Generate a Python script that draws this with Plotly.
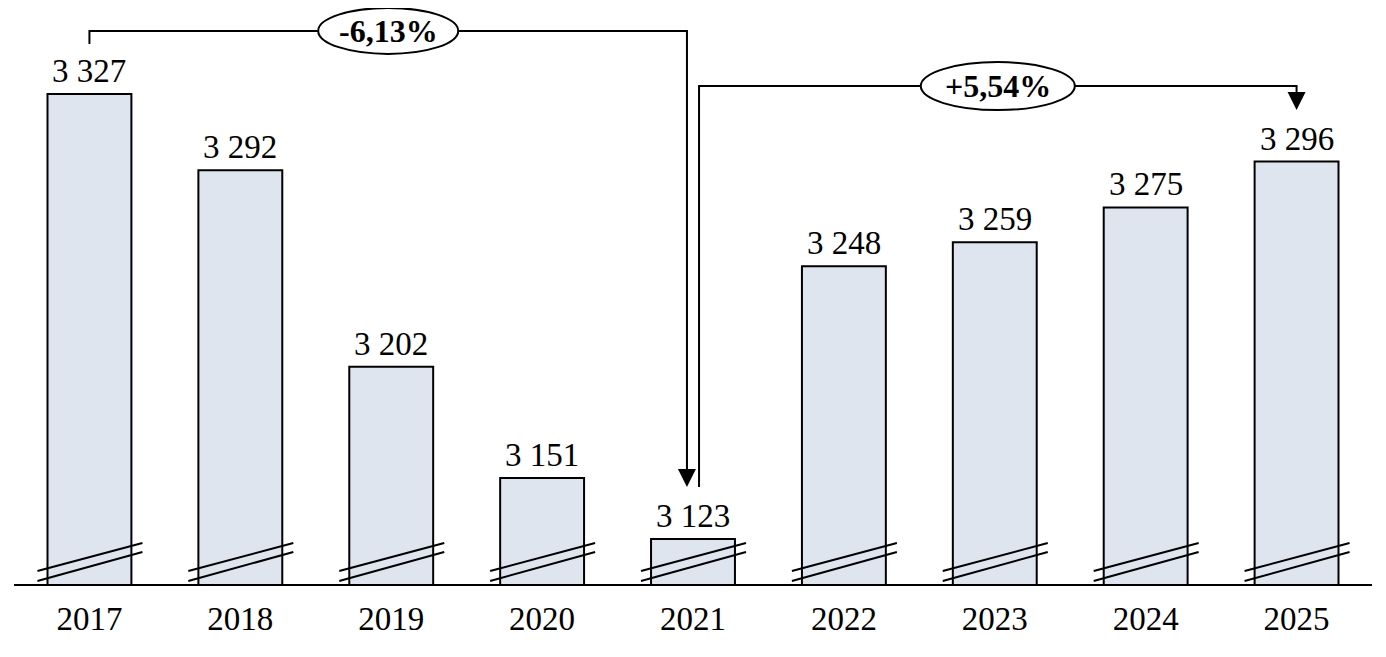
import plotly.graph_objects as go

years = ["2017", "2018", "2019", "2020", "2021", "2022", "2023", "2024", "2025"]
values = [3327, 3292, 3202, 3151, 3123, 3248, 3259, 3275, 3296]
change_labels = ["-6,13%", "+5,54%"]

Y_MIN = 3102.4
Y_MAX = 3366.4
FONT = "Liberation Serif, Times New Roman, serif"
BAR_FILL = "#dee5ef"


def fmt(v):
    return f"{v:,}".replace(",", " ")


fig = go.Figure(
    go.Bar(
        x=list(range(len(years))),
        y=values,
        width=0.556,
        marker=dict(color=BAR_FILL, line=dict(color="black", width=2)),
        hoverinfo="skip",
    )
)

shapes = []
annotations = []

# value labels
for i, v in enumerate(values):
    annotations.append(dict(x=i, y=v, text=fmt(v), showarrow=False, yanchor="bottom", yshift=3,
                            font=dict(size=33, color="black", family=FONT)))

# axis break marks
for i in range(len(years)):
    for y0, y1 in [(3, 32), (13, 41)]:
        shapes.append(dict(type="line", xref="x", yref="y", xsizemode="pixel", ysizemode="pixel",
                           xanchor=i, yanchor=Y_MIN, x0=-52, x1=53, y0=y0, y1=y1,
                           line=dict(color="black", width=2)))

# bracket 1: 2017 -> 2021
y_top1 = 3355.9
shapes.append(dict(type="path", xref="x", yref="y",
                   path=f"M 0 {3349.9} L 0 {y_top1} L 3.96 {y_top1} L 3.96 3165",
                   line=dict(color="black", width=2)))
annotations.append(dict(x=3.96, y=3146.9, ax=3.96, ay=3166, xref="x", yref="y", axref="x", ayref="y",
                        text="", showarrow=True, arrowhead=2, arrowsize=1.8, arrowwidth=2, arrowcolor="black"))

# bracket 2: 2021 -> 2025
y_top2 = 3330.6
shapes.append(dict(type="path", xref="x", yref="y",
                   path=f"M 4.04 3146.9 L 4.04 {y_top2} L 8 {y_top2} L 8 3326",
                   line=dict(color="black", width=2)))
annotations.append(dict(x=8, y=3319.6, ax=8, ay=3328, xref="x", yref="y", axref="x", ayref="y",
                        text="", showarrow=True, arrowhead=2, arrowsize=1.8, arrowwidth=2, arrowcolor="black"))

# ellipse labels
for cx, cy, w, h, label in [(1.98, y_top1, 140, 46, change_labels[0]), (6.02, y_top2, 154, 48, change_labels[1])]:
    shapes.append(dict(type="circle", xref="x", yref="y", xsizemode="pixel", ysizemode="pixel",
                       xanchor=cx, yanchor=cy, x0=-w / 2, x1=w / 2, y0=-h / 2, y1=h / 2,
                       fillcolor="white", line=dict(color="black", width=2), layer="above"))
    annotations.append(dict(x=cx, y=cy, text=f"<b>{label}</b>", showarrow=False,
                            font=dict(size=32, color="black", family=FONT)))

fig.update_layout(
    width=1378,
    height=649,
    margin=dict(l=5.5, r=13.5, t=0, b=73),
    paper_bgcolor="white",
    plot_bgcolor="white",
    showlegend=False,
    shapes=shapes,
    annotations=annotations,
    font=dict(family=FONT, color="black"),
)
fig.update_xaxes(range=[-0.5, len(years) - 0.5], tickmode="array", tickvals=list(range(len(years))), ticktext=years,
                 showline=True, linecolor="black", linewidth=2, showgrid=False, zeroline=False, ticks="",
                 ticklabelstandoff=4, tickfont=dict(size=33, family=FONT, color="black"))
fig.update_yaxes(range=[Y_MIN, Y_MAX], visible=False, showgrid=False, zeroline=False)

fig.write_html("out.html")
